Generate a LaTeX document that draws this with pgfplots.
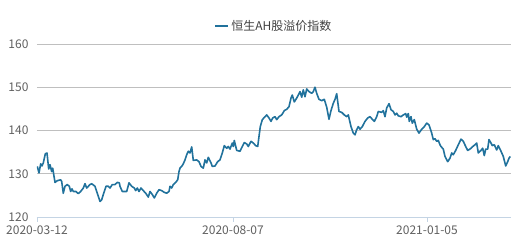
\documentclass[border=0pt]{standalone}
\usepackage{fontspec}
\setmainfont{Noto Sans CJK SC}
\usepackage{pgfplots}
\pgfplotsset{compat=1.18}
\definecolor{linec}{RGB}{33,114,156}
\definecolor{gridc}{RGB}{191,191,191}
\definecolor{axc}{RGB}{196,212,228}
\definecolor{tickc}{RGB}{96,96,96}
\definecolor{legc}{RGB}{64,64,64}
\begin{document}
\begin{tikzpicture}[x=1pt,y=1pt]
\useasboundingbox (0,0) rectangle (520,246);
\begin{axis}[
  at={(37pt,29pt)}, anchor=south west, scale only axis,
  width=474pt, height=173pt,
  xmin=37, xmax=511, ymin=120, ymax=160,
  ytick={120,130,140,150,160},
  xtick={37,233,427},
  xticklabels={2020-03-12,2020-08-07,2021-01-05},
  axis x line*=bottom, axis y line*=left,
  x axis line style={draw=axc, line width=0.8pt, -},
  y axis line style={draw=none},
  ytick style={draw=none},
  xtick style={draw=axc, line width=0.8pt},
  tick align=outside, major tick length=5pt,
  ymajorgrids, grid style={draw=gridc, line width=0.8pt},
  /pgf/number format/assume math mode=true,
  tick label style={font=\fontsize{12}{14}\selectfont, text=tickc},
  yticklabel style={xshift=0pt},
  xticklabel style={yshift=0pt},
  legend style={at={(0.5,1)}, anchor=south, yshift=8pt, draw=none, fill=none,
    font=\fontsize{12}{14}\selectfont, text=legc},
  legend image code/.code={\draw[#1] (0pt,0pt) -- (13pt,0pt);},
]
\addplot[linec, line width=1.6pt, line join=round] coordinates {
(37.3,131.7) (39,130.2) (40.7,132.3) (42,131.8) (43.3,132.5) (45.3,134.6) (47,134.8) (48.7,131.1) (50,132.1) (51.7,130.5)
(52.7,131.3) (55,128) (57.3,128.4) (60.7,128.6) (61.7,128.2) (63.3,125.5) (65,127.1) (67.3,127.5) (69.3,127.1) (70.7,125.9)
(72,126.5) (73.3,125.9) (76,125.9) (78.3,125.4) (80.7,125.9) (83.3,126.7) (85,127.7) (86.7,126.7) (90,127.5) (91.7,127.7)
(95,127.1) (96.7,125.9) (98.3,124.8) (100,123.6) (101.7,124) (103.3,125.2) (106,127.1) (108.3,127.1) (110,126.7) (112.3,127.5)
(115,127.5) (117.3,128) (119.3,127.9) (120,127.1) (122.3,125.9) (126.7,125.9) (129,127.9) (131.7,127.1) (134.3,126.7) (135.7,126.1)
(137.3,126.7) (139,125.9) (141,126.7) (143.3,126.1) (145.7,125.5) (148.3,124.6) (150,125.9) (152.3,125.2) (154.3,124.4) (156.7,125.5)
(159,126.3) (161.7,126.1) (164.3,125.7) (166.7,125.5) (169,125.9) (170,127.1) (171.7,126.7) (173.3,127.5) (175.7,128) (177.7,128.6)
(179,130.5) (180,131.3) (181.7,131.7) (183.3,132.3) (185,133.2) (186.7,134.4) (188.3,135.2) (190,134.8) (191.7,136.2) (193.3,133.1)
(196.7,133.2) (199,132.8) (201,131.7) (203.3,131.3) (205,133.2) (206.7,132.5) (208.3,133.8) (211,132.5) (212.3,131.7) (215,131.8)
(217.7,132.8) (220,133.2) (222.3,134.8) (224.3,136.5) (226.7,135.9) (228.3,136.3) (230,135.7) (232.3,137.1) (233.3,136.3) (234.3,137.7)
(236.7,135.4) (240,135.2) (242.3,136.3) (244.3,137.2) (246.7,136.9) (248.3,136.3) (251,137.5) (253.3,137.1) (255.7,136.5) (257.7,136.3)
(259,138.6) (260.3,140.9) (262.3,142.5) (265,143.2) (266.7,143.6) (269,142.9) (271,142.1) (272.7,142.9) (275,143.2) (276.7,142.5)
(279,143.2) (281.7,143.6) (283.3,144.2) (284.3,144.6) (286.7,144.9) (289,145.5) (291,147.5) (292.3,148.2) (294.3,146.6) (296.7,147.5)
(299,148.5) (300,149) (301.7,147.7) (303.3,149.4) (305,147.8) (306.7,149.6) (309,149) (311.7,148.6) (313.3,149) (315,150)
(316.7,148.6) (319,147.2) (321.7,146.9) (324.3,147.2) (326.7,145.4) (329,142.6) (331,144.6) (333.3,146.3) (335,147.2) (336.7,148.5)
(339,144.4) (341.7,144.2) (344.3,143.6) (346.7,143.2) (348.3,143.6) (351,140.9) (353.3,139.4) (355,139) (356.7,140.2) (358.3,140.9)
(360,140.3) (362.3,140.9) (365,142.1) (367.7,142.9) (370,143.2) (372.3,142.6) (374.3,142.1) (376.7,143.2) (378.3,144.4) (381.7,144.2)
(383.3,144.6) (385,143.2) (386.7,145.2) (389,146.2) (391,144.8) (393.3,144.4) (395,143.6) (396.7,144) (398.3,143.4) (401,143.2)
(403.3,143.6) (405.7,143.9) (406.7,143.1) (408.3,143.9) (409.3,142.1) (411,143.2) (412.3,141.7) (414.3,142.5) (416.7,140.3) (419,139.4)
(421.7,140.3) (424.3,140.9) (426.7,141.7) (429,141.3) (431.7,139.4) (433.3,137.9) (435,138.1) (436.7,137.5) (438.3,137.7) (440,136.7)
(441,136.3) (443.3,135.7) (445,134) (447.7,132.8) (450,133.6) (451.7,134.8) (453.3,134.4) (455.7,135.4) (458.3,136.7) (461,138)
(463.3,137.5) (465.7,136.3) (467.7,135.4) (470,135.7) (472.3,136.2) (475,136.7) (476.7,137.1) (478.3,134.8) (481,135.4) (482.7,135.9)
(484.3,134.2) (485.7,135.7) (487.7,135.7) (489,137.9) (491,137.1) (492.3,136.5) (494.3,136.7) (496.7,135.5) (498.3,136.5) (501,135.2)
(503.3,134) (505.7,131.8) (507.7,132.8) (509,133.6) (510.3,134)
};
\addlegendentry{恒生AH股溢价指数}
\end{axis}
\end{tikzpicture}
\end{document}
